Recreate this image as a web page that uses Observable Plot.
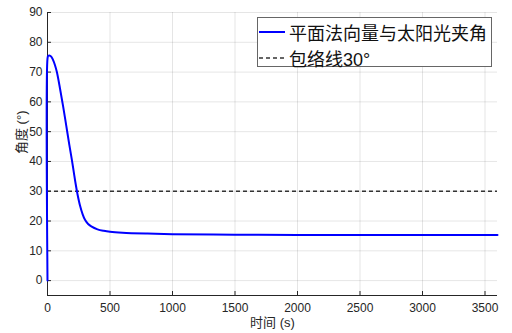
<!DOCTYPE html>
<html><head><meta charset="utf-8">
<script src="https://cdn.jsdelivr.net/npm/d3@7"></script>
<script src="https://cdn.jsdelivr.net/npm/@observablehq/plot@0.6"></script>
<style>
body{margin:0;background:#fff;}
#wrap{position:relative;width:512px;height:333px;font-family:"Liberation Sans","Noto Sans CJK SC",sans-serif;}
#legend{position:absolute;left:257px;top:17px;width:233px;height:48px;border:1px solid #666;background:#fff;font-size:18px;color:#111;}
.row{position:absolute;left:1px;height:26px;display:flex;align-items:center;white-space:nowrap;}
.row svg{margin-right:4px;}
</style></head>
<body><div id="wrap"></div>
<script>
const time  = [0, 0, 5, 15, 30, 45, 60, 75, 100, 125, 150, 175, 195, 210, 225, 240, 260, 280, 300, 325, 350, 400, 450, 500, 600, 800, 1000, 1500, 2000, 2500, 3000, 3600];
const angle = [0, 74.5, 75.4, 75.6, 75.2, 74, 72.3, 70, 64.5, 58.5, 52, 45.5, 40.5, 36.5, 32.5, 29, 25.2, 22.4, 20.4, 19, 18.2, 17.2, 16.7, 16.4, 16.1, 15.8, 15.6, 15.4, 15.3, 15.3, 15.3, 15.3];
const envelope = [30];
const xTicks = [0, 500, 1000, 1500, 2000, 2500, 3000, 3500];
const yTicks = [0, 10, 20, 30, 40, 50, 60, 70, 80, 90];
const xDomain = [0, 3600];
const yDomain = [-5, 90];
const seriesNames = ["平面法向量与太阳光夹角", "包络线30°"];
const xLabel = "时间 (s)";
const yLabel = "角度 (°)";

const rows = time.map((t, i) => ({t, a: angle[i]}));
const font = '"Liberation Sans","Noto Sans CJK SC",sans-serif';
const chart = Plot.plot({
  width: 512, height: 333,
  marginLeft: 47, marginRight: 15, marginTop: 12, marginBottom: 38,
  x: {domain: xDomain},
  y: {domain: yDomain},
  style: {fontFamily: font, fontSize: "12px", color: "#262626", background: "transparent"},
  marks: [
    Plot.gridX(xTicks, {stroke: "#000", strokeOpacity: 0.1}),
    Plot.gridY(yTicks, {stroke: "#000", strokeOpacity: 0.1}),
    Plot.ruleX([xDomain[0]], {stroke: "#262626"}),
    Plot.ruleY([yDomain[0]], {stroke: "#262626"}),
    Plot.axisX(xTicks, {tickSize: -4, tickPadding: 12, stroke: "#262626", fill: "#262626", tickFormat: d3.format("d"), label: null}),
    Plot.axisY(yTicks, {tickSize: -4, tickPadding: 9, stroke: "#262626", fill: "#262626", tickFormat: d3.format("d"), label: null}),
    Plot.text([xLabel], {text: d => d, frameAnchor: "bottom", dy: 31, fontSize: 13, fill: "#262626"}),
    Plot.text([yLabel], {text: d => d, frameAnchor: "left", dx: -26, rotate: -90, fontSize: 13, fill: "#262626"}),
    Plot.ruleY(envelope, {stroke: "#333", strokeWidth: 1.4, strokeDasharray: "4,3"}),
    Plot.line(rows, {x: "t", y: "a", stroke: "#0000ff", strokeWidth: 2, curve: "catmull-rom"})
  ]
});
const wrap = document.getElementById("wrap");
wrap.appendChild(chart);
const legend = document.createElement("div");
legend.id = "legend";
legend.innerHTML = `
<div class="row" style="top:1px"><svg width="26" height="4"><line x1="0" x2="26" y1="2" y2="2" stroke="#0000ff" stroke-width="2"/></svg>${seriesNames[0]}</div>
<div class="row" style="top:27px"><svg width="26" height="4"><line x1="0" x2="26" y1="2" y2="2" stroke="#333" stroke-width="1.4" stroke-dasharray="4,3"/></svg>${seriesNames[1]}</div>`;
wrap.appendChild(legend);
</script></body></html>
